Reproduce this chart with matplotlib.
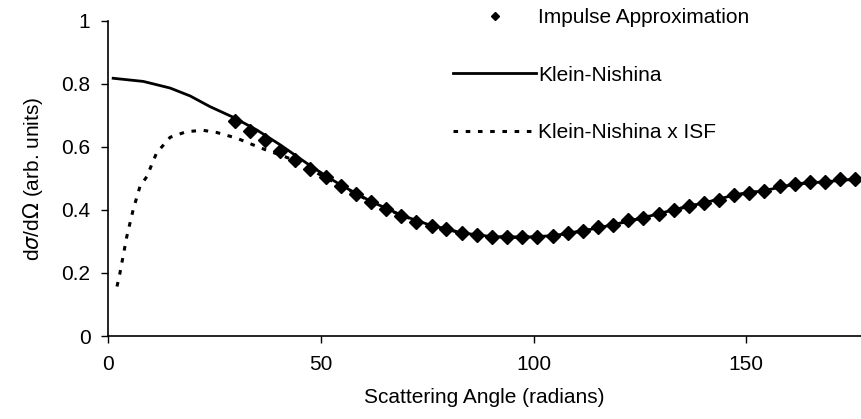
import matplotlib
matplotlib.use('Agg')
from matplotlib import pyplot as plt

plt.rcParams['font.family'] = ['Liberation Sans', 'DejaVu Sans']

# impulse approximation points
ia_angle = [29.7, 33.3, 36.8, 40.4, 43.9, 47.5, 51.1, 54.6, 58.2, 61.7,
            65.3, 68.9, 72.4, 76.0, 79.5, 83.1, 86.7, 90.2, 93.8, 97.3,
            100.9, 104.5, 108.0, 111.6, 115.1, 118.7, 122.3, 125.8, 129.4, 132.9,
            136.5, 140.1, 143.6, 147.2, 150.7, 154.3, 157.9, 161.4, 165.0, 168.5,
            172.1, 175.7]
ia_val = [0.680, 0.650, 0.622, 0.588, 0.558, 0.530, 0.503, 0.476, 0.450, 0.426,
          0.402, 0.382, 0.363, 0.350, 0.338, 0.327, 0.321, 0.315, 0.313, 0.315,
          0.315, 0.318, 0.326, 0.333, 0.347, 0.353, 0.367, 0.375, 0.387, 0.400,
          0.412, 0.422, 0.432, 0.447, 0.453, 0.461, 0.474, 0.482, 0.487, 0.489,
          0.497, 0.497]

# Klein-Nishina
kn_angle = [1.1, 8.2, 14.5, 19.2, 23.9, 29.4, 34.9, 40.4, 46.6, 51.1, 54.6,
            61.7, 68.9, 76.0, 83.1, 90.2, 97.3, 104.5, 111.6, 118.7, 125.8,
            132.9, 140.1, 147.2, 154.3, 161.4, 168.5, 175.7]
kn_val = [0.817, 0.807, 0.786, 0.761, 0.727, 0.693, 0.653, 0.606, 0.548, 0.508, 0.479,
          0.427, 0.383, 0.350, 0.327, 0.315, 0.313, 0.318, 0.333, 0.353, 0.375,
          0.400, 0.422, 0.447, 0.461, 0.482, 0.489, 0.497]

# Klein-Nishina x ISF
isf_angle = [2.0, 2.7, 4.3, 5.8, 7.4, 9.0, 11.3, 14.5, 18.4, 22.3, 25.5, 30.2,
             34.0, 37.2, 40.4, 43.9, 47.5, 51.1, 54.6, 61.7, 68.9, 76.0, 83.1,
             90.2, 97.3, 104.5, 111.6, 118.7, 125.8, 132.9, 140.1, 147.2, 154.3,
             161.4, 168.5, 175.7]
isf_val = [0.157, 0.200, 0.315, 0.400, 0.474, 0.505, 0.580, 0.630, 0.648, 0.652,
           0.645, 0.627, 0.606, 0.589, 0.574, 0.556, 0.528, 0.502, 0.476, 0.426,
           0.382, 0.350, 0.327, 0.315, 0.313, 0.318, 0.333, 0.353, 0.375, 0.400,
           0.422, 0.447, 0.461, 0.482, 0.489, 0.497]

fig = plt.figure(figsize=(8.61, 4.19), dpi=100)
ax = fig.add_axes([0.126, 0.198, 0.874, 0.753])

ax.plot(ia_angle, ia_val, linestyle='none', marker='D', markersize=7.5,
        color='black', label='Impulse Approximation')
ax.plot(kn_angle, kn_val, '-', color='black', linewidth=2, label='Klein-Nishina')
ax.plot(isf_angle, isf_val, color='black', linewidth=2.2,
        linestyle=(0, (1.5, 2.5)), label='Klein-Nishina x ISF')

ax.set_xlim(0, 177)
ax.set_ylim(0, 1)
ax.set_xticks([0, 50, 100, 150])
ax.set_yticks([0, 0.2, 0.4, 0.6, 0.8, 1])
ax.set_yticklabels(['0', '0.2', '0.4', '0.6', '0.8', '1'])
ax.tick_params(labelsize=15, direction='out', length=5, width=1, color='black')
ax.tick_params(axis='x', pad=9)
ax.tick_params(axis='y', pad=8)
for s in ['top', 'right']:
    ax.spines[s].set_visible(False)
for s in ['left', 'bottom']:
    ax.spines[s].set_linewidth(1.2)

ax.set_xlabel('Scattering Angle (radians)', fontsize=15, labelpad=10)
ax.set_ylabel('d$\\sigma$/d$\\Omega$ (arb. units)', fontsize=15, labelpad=12)

leg = ax.legend(loc='upper left', bbox_to_anchor=(453 / 861, 1 - 8 / 419),
                bbox_transform=fig.transFigure, frameon=False, borderpad=0,
                borderaxespad=0, fontsize=15, handlelength=4.0, labelspacing=1.85,
                handletextpad=0.1, markerscale=0.6)

fig.savefig('out.png', dpi=100)
